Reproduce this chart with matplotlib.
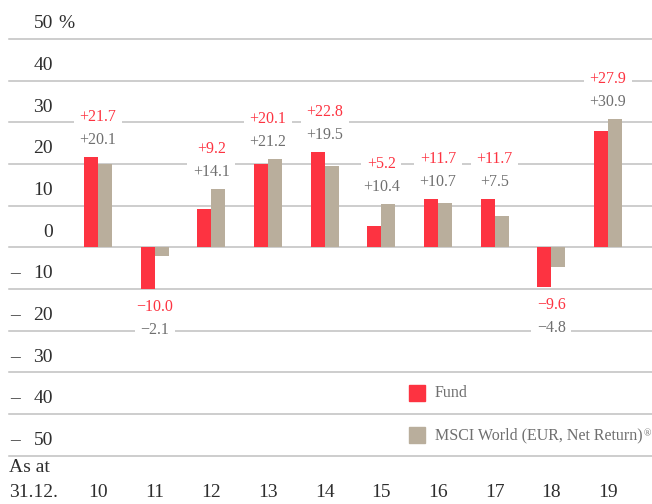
import matplotlib
matplotlib.use("Agg")
import matplotlib.pyplot as plt
from matplotlib.patches import Rectangle

# data
years = ["10", "11", "12", "13", "14", "15", "16", "17", "18", "19"]
fund = [21.7, -10.0, 9.2, 20.1, 22.8, 5.2, 11.7, 11.7, -9.6, 27.9]
msci = [20.1, -2.1, 14.1, 21.2, 19.5, 10.4, 10.7, 7.5, -4.8, 30.9]
yticks = [50, 40, 30, 20, 10, 0, -10, -20, -30, -40, -50]
series = ["Fund", "MSCI World (EUR, Net Return)"]

RED = "#fd3341"
BEIGE = "#b9ae9c"
GRID = "#c0c0c0"
DARK = "#2e2e2e"
GREY = "#6f6f6f"

plt.rcParams["font.family"] = ["Liberation Serif", "DejaVu Serif"]

W, H = 652, 504
fig = plt.figure(figsize=(W / 100, H / 100), dpi=100)
ax = fig.add_axes([0, 0, 1, 1])
ax.axis("off")

# pixel mapping: group centre of first year at x=98, pitch 56.67 px
pitch = 56.67
x0 = 98
ax.set_xlim(-x0 / pitch, (W - x0) / pitch)
zero_px = 247.4
ppu = 4.167
ax.set_ylim(-(H - zero_px) / ppu, zero_px / ppu)

xs = list(range(len(years)))
bw = 0.245
ax.bar(xs, fund, width=-bw, align="edge", color=RED, zorder=3)
ax.bar(xs, msci, width=bw, align="edge", color=BEIGE, zorder=3)

# gridlines
for v in yticks:
    ax.axhline(v, xmin=9 / W, xmax=1, color=GRID, lw=1.1, zorder=1)

# y labels sit above their gridline
ytr = ax.get_yaxis_transform()
for v in yticks:
    ax.annotate(str(abs(v)), (53 / W, v), xycoords=ytr, xytext=(0, 11),
                textcoords="offset points", ha="right", va="center",
                fontsize=14, color=DARK)
    if v < 0:
        ax.annotate("\u2013", (10 / W, v), xycoords=ytr, xytext=(0, 11),
                    textcoords="offset points", ha="left", va="center",
                    fontsize=14, color=DARK)
ax.annotate("%", (58 / W, yticks[0]), xycoords=ytr, xytext=(0, 11),
            textcoords="offset points", ha="left", va="center",
            fontsize=14, color=DARK)

# x labels
xtr = ax.get_xaxis_transform()
for i, y in enumerate(years):
    ax.text(i, 0.022, y, transform=xtr, ha="center", va="center",
            fontsize=14, color=DARK)
ax.text(9 / pitch - x0 / pitch, 0.072, "As at", transform=xtr, ha="left",
        va="center", fontsize=14, color=DARK)
ax.text(9 / pitch - x0 / pitch, 0.022, "31.12.", transform=xtr, ha="left",
        va="center", fontsize=14, color=DARK)


def fmt(v):
    return ("+" if v >= 0 else "\u2212") + "%.1f" % abs(v)


box = dict(boxstyle="square,pad=0.35", fc="white", ec="none")
for i in xs:
    f, m = fund[i], msci[i]
    if f >= 0:
        top = max(f, m)
        ax.annotate(fmt(f), (i, top), xytext=(0, 28.8), textcoords="offset points",
                    ha="center", va="center", fontsize=11.5, color=RED,
                    bbox=box, zorder=5)
        ax.annotate(fmt(m), (i, top), xytext=(0, 12.2), textcoords="offset points",
                    ha="center", va="center", fontsize=11.5, color=GREY,
                    bbox=box, zorder=6)
    else:
        bot = min(f, m)
        ax.annotate(fmt(f), (i, bot), xytext=(0, -13), textcoords="offset points",
                    ha="center", va="center", fontsize=11.5, color=RED,
                    bbox=box, zorder=6)
        ax.annotate(fmt(m), (i, bot), xytext=(0, -29.5), textcoords="offset points",
                    ha="center", va="center", fontsize=11.5, color=GREY,
                    bbox=box, zorder=5)

# legend, drawn by hand
labels = []
for k, (name, col) in enumerate(zip(series, [RED, BEIGE])):
    cy = 393 + 42 * k
    fig.patches.append(Rectangle((409 / W, 1 - (cy + 8) / H), 16 / W, 16 / H,
                                 transform=fig.transFigure, color=col))
    labels.append(fig.text(435 / W, 1 - cy / H, name, ha="left", va="center",
                           fontsize=11.5, color=GREY))

# small registered mark after the index name
fig.canvas.draw()
ext = labels[1].get_window_extent()
fig.text((ext.x1 + 0.5) / W, ext.y1 / H - 0.004, "\u00ae", ha="left", va="top",
         fontsize=7, color=GREY)

fig.savefig("out.png", dpi=100)
